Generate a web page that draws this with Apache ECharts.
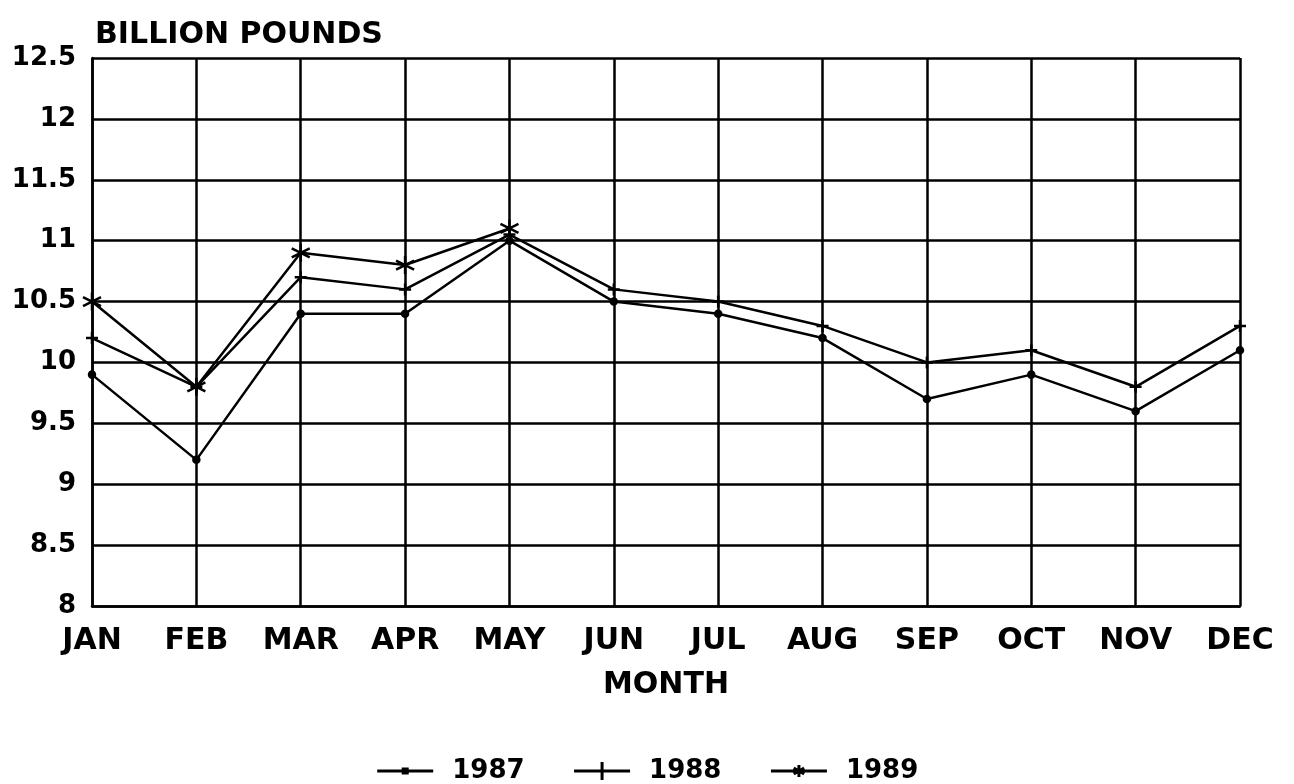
<!DOCTYPE html>
<html>
<head>
<meta charset="utf-8">
<script src="https://cdn.jsdelivr.net/npm/echarts@6/dist/echarts.min.js"></script>
<style>
html,body{margin:0;padding:0;background:#fff;}
#chart{width:1294px;height:784px;}
</style>
</head>
<body>
<div id="chart"></div>
<script>
const months = ['JAN','FEB','MAR','APR','MAY','JUN','JUL','AUG','SEP','OCT','NOV','DEC'];
const y1987 = [9.9, 9.2, 10.4, 10.4, 11.0, 10.5, 10.4, 10.2, 9.7, 9.9, 9.6, 10.1];
const y1988 = [10.2, 9.8, 10.7, 10.6, 11.05, 10.6, 10.5, 10.3, 10.0, 10.1, 9.8, 10.3];
const y1989 = [10.5, 9.8, 10.9, 10.8, 11.1];
const seriesNames = ['1987', '1988', '1989'];

const FONT = 'DejaVu Sans';
const plusPath = 'path://M5,0L5,10M0,5L10,5';
const starPath = 'path://M5,0L5,10M0.67,2.5L9.33,7.5M0.67,7.5L9.33,2.5';

// legend icons: line with marker in the middle
const legendIcons = [
  'path://M0,2L56,2M26,0L30,0L30,4L26,4Z',
  'path://M0,9L56,9M28,0L28,18',
  'path://M0,6L56,6M28,0L28,12M22.8,3L33.2,9M22.8,9L33.2,3'
];

function mkSeries(name, data, symbol, size) {
  return {
    name: name,
    type: 'line',
    data: data,
    symbol: symbol,
    symbolSize: size,
    showSymbol: true,
    lineStyle: { color: '#000', width: 2.5 },
    itemStyle: { color: '#000', borderColor: '#000', borderWidth: 2.5 },
    emphasis: { disabled: true }
  };
}

const chart = echarts.init(document.getElementById('chart'), null, { renderer: 'canvas' });
chart.setOption({
  animation: false,
  backgroundColor: '#fff',
  title: {
    text: 'BILLION POUNDS',
    left: 90,
    top: 15,
    textStyle: { fontFamily: FONT, fontWeight: 'bold', fontSize: 30, color: '#000' }
  },
  legend: {
    bottom: 0,
    padding: 0,
    left: 'center',
    itemWidth: 56,
    itemHeight: 20,
    itemGap: 48,
    itemStyle: { color: '#000', borderColor: '#000', borderWidth: 3 },
    data: seriesNames.map((n, i) => ({ name: n, icon: legendIcons[i] })),
    textStyle: { fontFamily: FONT, fontWeight: 'bold', fontSize: 26, color: '#000', padding: [0, 0, 0, 14] }
  },
  grid: { left: 92, right: 54, top: 58, bottom: 178, containLabel: false },
  xAxis: {
    type: 'category',
    data: months,
    boundaryGap: false,
    name: 'MONTH',
    nameLocation: 'middle',
    nameGap: 64,
    nameTextStyle: { fontFamily: FONT, fontWeight: 'bold', fontSize: 30, color: '#000', verticalAlign: 'top' },
    axisLine: { lineStyle: { color: '#000', width: 2.5 } },
    axisTick: { show: false },
    axisLabel: { fontFamily: FONT, fontWeight: 'bold', fontSize: 30, color: '#000', margin: 20, interval: 0 },
    splitLine: { show: true, lineStyle: { color: '#000', width: 2.5 } }
  },
  yAxis: {
    type: 'value',
    min: 8,
    max: 12.5,
    interval: 0.5,
    axisLine: { show: true, lineStyle: { color: '#000', width: 2.5 } },
    axisTick: { show: false },
    axisLabel: { fontFamily: FONT, fontWeight: 'bold', fontSize: 26, color: '#000', margin: 16 },
    splitLine: { show: true, lineStyle: { color: '#000', width: 2.5 } }
  },
  series: [
    mkSeries('1987', y1987, 'circle', 6),
    mkSeries('1988', y1988, plusPath, 12),
    mkSeries('1989', y1989, starPath, 18)
  ]
});
</script>
</body>
</html>
